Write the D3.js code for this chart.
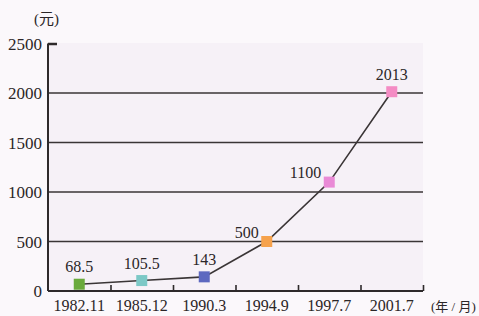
<!DOCTYPE html>
<html><head><meta charset="utf-8">
<script src="https://cdn.jsdelivr.net/npm/d3@7"></script>
<style>html,body{margin:0;padding:0;background:#fbf8fb;}svg{display:block;}</style>
</head><body>
<script>
const categories = ["1982.11","1985.12","1990.3","1994.9","1997.7","2001.7"];
const values = [68.5,105.5,143,500,1100,2013];
const colors = ["#6aaa3c","#7cc8c6","#5d68c0","#f6a24c","#e98ad6","#f48cc4"];
const yTicks = [0,500,1000,1500,2000,2500];
const labelPos = ["top","top","top","left","left","top"];

const W=479,H=316;
const svg=d3.select("body").append("svg").attr("width",W).attr("height",H);
const x=d3.scaleBand().domain(categories).range([48,423]);
const y=d3.scaleLinear().domain([0,2500]).range([291,43.5]);
const font="'Liberation Serif','Times New Roman','Noto Sans CJK SC',serif";

svg.append("rect").attr("x",48).attr("y",43).attr("width",375).attr("height",248).attr("fill","#f6f1f7");

// gridlines
svg.selectAll(".grid").data(yTicks.filter(d=>d>0&&d<2500)).enter().append("line")
  .attr("x1",48).attr("x2",423).attr("y1",d=>y(d)).attr("y2",d=>y(d))
  .attr("stroke","#3a3536").attr("stroke-width",1.4);

// y axis
const ya=svg.append("g").attr("transform","translate(48,0)")
  .call(d3.axisRight(y).tickValues([2500]).tickSize(9).tickFormat(""));
ya.select(".domain").attr("stroke","#2e2a2b").attr("stroke-width",2).attr("d",`M0,${y(2500)}V${y(0)}`);
ya.selectAll(".tick line").attr("stroke","#2e2a2b").attr("stroke-width",2.5);
svg.selectAll(".ylab").data(yTicks).enter().append("text")
  .attr("x",42).attr("y",d=>y(d)+6).attr("text-anchor","end")
  .attr("font-family",font).attr("font-size",17).attr("fill","#2b2627").text(d=>d);

// x axis
const xa=svg.append("g").attr("transform",`translate(0,${y(0)})`)
  .call(d3.axisTop(d3.scaleLinear().domain([0,6]).range([48,423])).tickValues([1,2,3,4,5,6]).tickSize(6).tickFormat(""));
xa.select(".domain").attr("stroke","#2e2a2b").attr("stroke-width",2).attr("d","M48,0H423");
xa.selectAll(".tick line").attr("stroke","#2e2a2b").attr("stroke-width",1.6);
svg.selectAll(".xlab").data(categories).enter().append("text")
  .attr("x",d=>x(d)+x.bandwidth()/2).attr("y",311).attr("text-anchor","middle")
  .attr("font-family",font).attr("font-size",16).attr("fill","#2b2627").text(d=>d);
svg.append("text").attr("x",431).attr("y",311).attr("font-family",font).attr("font-size",13).attr("fill","#2b2627").text("(年 / 月)");
svg.append("text").attr("x",34).attr("y",24).attr("font-family",font).attr("font-size",15).attr("fill","#2b2627").text("(元)");

// line
const pts=categories.map((c,i)=>({c,v:values[i],col:colors[i],pos:labelPos[i]}));
svg.append("path").datum(pts)
  .attr("d",d3.line().x(d=>x(d.c)+x.bandwidth()/2).y(d=>y(d.v)))
  .attr("fill","none").attr("stroke","#3a3536").attr("stroke-width",1.6);
svg.selectAll(".mk").data(pts).enter().append("rect")
  .attr("x",d=>x(d.c)+x.bandwidth()/2-5.5).attr("y",d=>y(d.v)-5.5)
  .attr("width",11).attr("height",11).attr("fill",d=>d.col);
svg.selectAll(".dl").data(pts).enter().append("text")
  .attr("x",d=>d.pos==="top"?x(d.c)+x.bandwidth()/2:x(d.c)+x.bandwidth()/2-8)
  .attr("y",d=>d.pos==="top"?y(d.v)-12:y(d.v)-4)
  .attr("text-anchor",d=>d.pos==="top"?"middle":"end")
  .attr("font-family",font).attr("font-size",16).attr("fill","#2b2627").text(d=>d.v);
</script>
</body></html>
